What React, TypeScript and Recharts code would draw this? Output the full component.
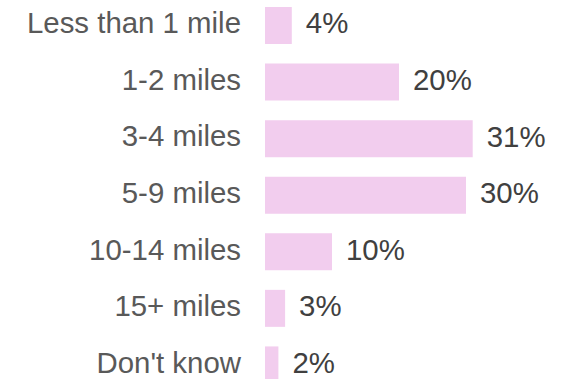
import React from "react";
import { BarChart, Bar, XAxis, YAxis, LabelList } from "recharts";

const categories = ["Less than 1 mile", "1-2 miles", "3-4 miles", "5-9 miles", "10-14 miles", "15+ miles", "Don't know"];
const values = [4, 20, 31, 30, 10, 3, 2];
const valueLabels = ["4%", "20%", "31%", "30%", "10%", "3%", "2%"];

const data = categories.map((c, i) => ({ name: c, value: values[i], label: valueLabels[i] }));

const FONT = "'Liberation Sans', Arial, sans-serif";
const FS = 29.4;

const CategoryTick = (props: any) => {
  const { x, y, payload } = props;
  return (
    <text x={x} y={y - 2.5} dy="0.355em" textAnchor="end" fill="#595959" fontSize={FS} fontFamily={FONT}>
      {payload.value}
    </text>
  );
};

const ValueLabel = (props: any) => {
  const { x, y, width, height, value } = props;
  return (
    <text
      x={Number(x) + Number(width) + 14}
      y={Number(y) + Number(height) / 2 - 2.5}
      dy="0.355em"
      textAnchor="start"
      fill="#404040"
      fontSize={FS}
      fontFamily={FONT}
    >
      {value}
    </text>
  );
};

export default function App() {
  return (
    <div style={{ position: "absolute", left: 0, top: -3 }}>
      <BarChart
        width={569}
        height={396}
        data={data}
        layout="vertical"
        margin={{ top: 0, right: 36, bottom: 0, left: 0 }}
        barSize={37}
      >
        <XAxis type="number" domain={[0, 40]} hide />
        <YAxis
          type="category"
          dataKey="name"
          width={265}
          axisLine={false}
          tickLine={false}
          tickSize={0}
          tickMargin={24}
          interval={0}
          tick={<CategoryTick />}
        />
        <Bar dataKey="value" fill="#f2cdee" isAnimationActive={false}>
          <LabelList dataKey="label" content={<ValueLabel />} />
        </Bar>
      </BarChart>
    </div>
  );
}
